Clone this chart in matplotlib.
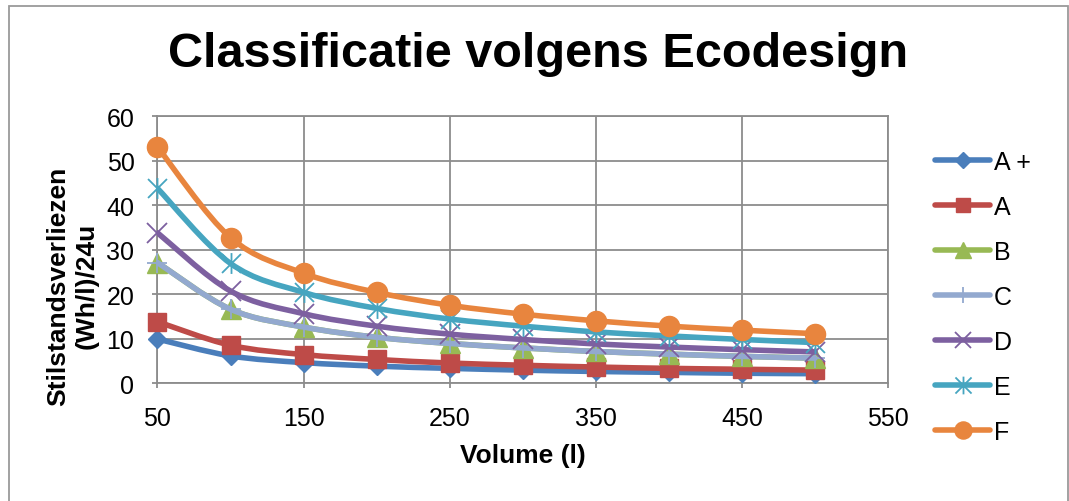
import numpy as np
import matplotlib.pyplot as plt
from matplotlib.path import Path
from matplotlib.patches import PathPatch, Rectangle
from matplotlib.lines import Line2D

plt.rcParams['font.family'] = ['Liberation Sans', 'DejaVu Sans']

# data
volume = [50, 100, 150, 200, 250, 300, 350, 400, 450, 500]
class_names = ['A +', 'A', 'B', 'C', 'D', 'E', 'F']
loss_a_plus = [9.9, 6.1, 4.6, 3.8, 3.3, 2.9, 2.6, 2.4, 2.2, 2.1]
loss_a = [13.8, 8.5, 6.4, 5.3, 4.5, 4.0, 3.6, 3.3, 3.1, 2.9]
loss_b = [27.1, 16.6, 12.6, 10.3, 8.9, 7.9, 7.1, 6.5, 6.0, 5.6]
loss_c = [27.1, 16.6, 12.6, 10.3, 8.9, 7.9, 7.1, 6.5, 6.0, 5.6]
loss_d = [33.8, 20.7, 15.6, 12.8, 11.0, 9.8, 8.8, 8.1, 7.5, 7.0]
loss_e = [43.8, 26.9, 20.4, 16.8, 14.4, 12.8, 11.5, 10.6, 9.8, 9.1]
loss_f = [53.1, 32.7, 24.7, 20.4, 17.5, 15.5, 14.0, 12.8, 11.9, 11.1]
x_ticks = [50, 150, 250, 350, 450, 550]
y_ticks = [0, 10, 20, 30, 40, 50, 60]

series = [loss_a_plus, loss_a, loss_b, loss_c, loss_d, loss_e, loss_f]
colors = ['#4A7EBB', '#BE4B48', '#98B954', '#93A9CF', '#7D60A0', '#46A5C0', '#E8853E']

# excel style asterisk: x with a vertical bar
M, L = Path.MOVETO, Path.LINETO
star = Path([(-1, -1), (1, 1), (-1, 1), (1, -1), (0, -1.1), (0, 1.1)],
            [M, L, M, L, M, L])

markers = [
    dict(marker='D', ms=9.5),
    dict(marker='s', ms=12.5),
    dict(marker='^', ms=14),
    dict(marker='+', ms=14, mew=1.3),
    dict(marker='x', ms=14, mew=1.3),
    dict(marker=star, ms=15, mew=1.3, mfc='none'),
    dict(marker='o', ms=14.5),
]


def smooth_path(x, y):
    # bezier through the points, like excel's smoothed line
    pts = np.column_stack([x, y]).astype(float)
    n = len(pts)
    verts = [pts[0]]
    codes = [Path.MOVETO]
    for i in range(n - 1):
        p0 = pts[max(i - 1, 0)]
        p1 = pts[i]
        p2 = pts[i + 1]
        p3 = pts[min(i + 2, n - 1)]
        verts += [p1 + (p2 - p0) / 6, p2 - (p3 - p1) / 6, p2]
        codes += [Path.CURVE4] * 3
    return Path(verts, codes)


fig = plt.figure(figsize=(10.69, 5.02), dpi=100)
fig.patches.append(Rectangle((9 / 1069, -0.05), 1059 / 1069, 1.05 - 7 / 502,
                             transform=fig.transFigure, fill=False,
                             edgecolor='#9A9A9A', lw=1.3))

ax = fig.add_axes([0.1473, 0.235, 0.6834, 0.5313])
grey = '#8C8C8C'
handles = []
for i, (vals, col, mk) in enumerate(zip(series, colors, markers)):
    patch = PathPatch(smooth_path(volume, vals), fill=False, edgecolor=col, lw=4,
                      capstyle='round', joinstyle='round', zorder=3 + 2 * i)
    ax.add_patch(patch)
    style = dict(color=col, mec=col)
    style.update(mk)
    ax.plot(volume, vals, linestyle='none', zorder=4 + 2 * i, clip_on=False, **style)
    handles.append(Line2D([], [], lw=4, solid_capstyle='round', **style))

ax.set_xlim(50, 550)
ax.set_ylim(0, 60)
ax.set_xticks(x_ticks)
ax.set_yticks(y_ticks)
ax.grid(True, color=grey, lw=1.3)
ax.set_axisbelow(True)
for sp in ax.spines.values():
    sp.set_color(grey)
    sp.set_linewidth(1.3)
ax.tick_params(axis='both', labelsize=18, color=grey, length=3.6, width=1.3, pad=13)

fig.text(538.5 / 1069, 1 - 67 / 502, 'Classificatie volgens Ecodesign',
         fontsize=35, fontweight='bold', ha='center', va='baseline')
fig.text(523 / 1069, 1 - 463 / 502, 'Volume (l)', fontsize=19, fontweight='bold',
         ha='center', va='baseline')
fig.text(72.5 / 1069, 1 - 286 / 502, 'Stilstandsverliezen\n(Wh/l)/24u', fontsize=19,
         fontweight='bold', ha='center', va='center', rotation=90, multialignment='center')

fig.legend(handles, class_names, loc='upper left', bbox_to_anchor=(935 / 1069, 1 - 151 / 502),
           frameon=False, fontsize=18, handlelength=2.2, handletextpad=0.16,
           labelspacing=0.84, borderpad=0, borderaxespad=0, markerscale=0.85)

fig.savefig('out.png', dpi=100)
